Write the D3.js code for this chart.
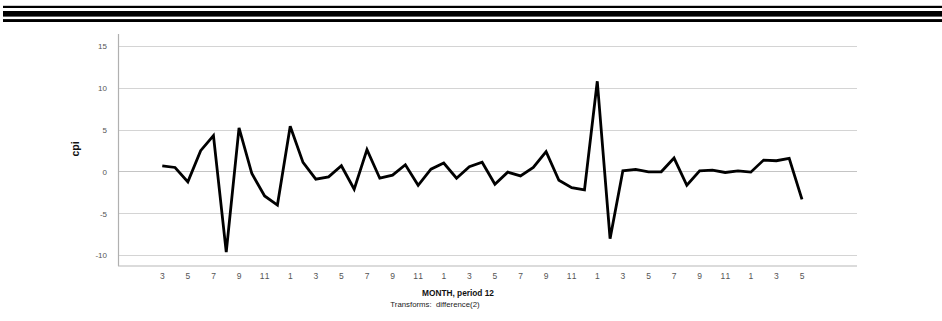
<!DOCTYPE html>
<html>
<head>
<meta charset="utf-8">
<script src="https://cdn.jsdelivr.net/npm/d3@7"></script>
<style>
    body { margin: 0; background: #fff; }
    svg { display: block; font-family: "Liberation Sans", Arial, sans-serif; }
</style>
</head>
<body>
<svg id="CpiChart"></svg>
<script>
            // month number of every observation (starts at month 3, difference(2) eats the first two)
            let months = [3, 4, 5, 6, 7, 8, 9, 10, 11, 12,
                1, 2, 3, 4, 5, 6, 7, 8, 9, 10, 11, 12,
                1, 2, 3, 4, 5, 6, 7, 8, 9, 10, 11, 12,
                1, 2, 3, 4, 5, 6, 7, 8, 9, 10, 11, 12,
                1, 2, 3, 4, 5]

            // differenced cpi values
            let cpiValues = [0.68, 0.48, -1.24, 2.48, 4.28, -9.6, 5.2, -0.24, -2.92, -4.0,
                5.4, 1.08, -0.92, -0.64, 0.68, -2.12, 2.6, -0.8, -0.44, 0.8, -1.64, 0.28,
                1.0, -0.8, 0.56, 1.1, -1.52, -0.08, -0.52, 0.48, 2.36, -1.04, -1.92, -2.2,
                10.75, -8.0, 0.08, 0.24, -0.04, -0.04, 1.6, -1.64, 0.08, 0.16, -0.12,
                0.08, -0.08, 1.36, 1.28, 1.56, -3.32]

            let yTicks = [-10, -5, 0, 5, 10, 15]

            function getConfig() {
                let width = 942;
                let height = 321;
                let plot = {left: 118, right: 857, top: 34, bottom: 265.5}
                let container = d3.select('#CpiChart')
                container
                    .attr("width", width)
                    .attr("height", height)
                return {width, height, plot, container}
            }

            function getScales(config) {
                let {plot} = config
                // index 0 is month 3; the axis keeps some room for the two lost months
                let xScale = d3
                    .scaleLinear()
                    .domain([-3.46, 54.3])
                    .range([plot.left, plot.right])

                let yScale = d3
                    .scaleLinear()
                    .domain([-11.2, 16.38])
                    .range([plot.bottom, plot.top])

                return {xScale, yScale}
            }

            function drawRules(config) {
                let {container, width} = config
                let rules = [{y: 5.8, h: 2.2}, {y: 11, h: 5.6}, {y: 19.1, h: 2.9}]
                container
                    .selectAll(".rule")
                    .data(rules)
                    .enter()
                    .append("rect")
                    .attr("class", "rule")
                    .attr("x", 3)
                    .attr("y", d => d.y)
                    .attr("width", width - 3)
                    .attr("height", d => d.h)
                    .attr("fill", "#000")
            }

            function drawGrid(scales, config) {
                let {yScale} = scales
                let {container, plot} = config
                container
                    .append("g")
                    .selectAll("line")
                    .data(yTicks)
                    .enter()
                    .append("line")
                    .attr("x1", plot.left)
                    .attr("x2", plot.right)
                    .attr("y1", d => Math.round(yScale(d)) + 0.5)
                    .attr("y2", d => Math.round(yScale(d)) + 0.5)
                    .attr("stroke", d => d == 0 ? "#c4c4c4" : "#d4d4d4")
                    .attr("stroke-width", 1)
            }

            function drawAxes(scales, config) {
                let {xScale, yScale} = scales
                let {container, plot} = config

                // plain hyphen for negatives, like the original
                let axisY = d3.axisLeft(yScale)
                    .tickValues(yTicks)
                    .tickFormat(d => String(d))
                    .tickSize(0)
                    .tickPadding(11)
                let gy = container
                    .append("g")
                    .attr("transform", `translate(${plot.left},0)`)
                    .call(axisY)
                gy.select(".domain").remove()
                gy.selectAll("text")
                    .attr("font-size", 8)
                    .attr("font-family", "Liberation Sans, Arial, sans-serif")
                    .attr("fill", "#555")

                let oddIdx = months.map((m, i) => i).filter(i => months[i] % 2 == 1)
                let axisX = d3.axisBottom(xScale)
                    .tickValues(oddIdx)
                    .tickFormat(i => months[i])
                    .tickSize(0)
                    .tickPadding(7)
                let gx = container
                    .append("g")
                    .attr("transform", `translate(0,${plot.bottom})`)
                    .call(axisX)
                gx.select(".domain").remove()
                gx.selectAll("text")
                    .attr("font-size", 8.5)
                    .attr("font-family", "Liberation Sans, Arial, sans-serif")
                    .attr("fill", "#555")
                    .attr("letter-spacing", 0.9)

                // axis frame lines
                container.append("line")
                    .attr("x1", plot.left + 0.5).attr("x2", plot.left + 0.5)
                    .attr("y1", plot.top).attr("y2", plot.bottom + 0.5)
                    .attr("stroke", "#b0b0b0")
                    .attr("stroke-width", 1.2)
                container.append("line")
                    .attr("x1", plot.left).attr("x2", plot.right)
                    .attr("y1", plot.bottom + 0.5).attr("y2", plot.bottom + 0.5)
                    .attr("stroke", "#b8b8b8")
                    .attr("stroke-width", 1.2)

                container.append("text")
                    .attr("transform", "translate(79,149) rotate(-90)")
                    .attr("text-anchor", "middle")
                    .attr("font-size", 10.5)
                    .attr("font-weight", "bold")
                    .attr("fill", "#111")
                    .text("cpi")

                container.append("text")
                    .attr("x", 458)
                    .attr("y", 295.5)
                    .attr("text-anchor", "middle")
                    .attr("font-size", 8.3)
                    .attr("font-weight", "bold")
                    .attr("fill", "#111")
                    .text("MONTH, period 12")

                container.append("text")
                    .attr("x", 435)
                    .attr("y", 306.5)
                    .attr("text-anchor", "middle")
                    .attr("font-size", 7.8)
                    .attr("fill", "#222")
                    .attr("xml:space", "preserve")
                    .text("Transforms:  difference(2)")
            }

            function drawLine(scales, config) {
                let {xScale, yScale} = scales
                let {container} = config
                let line = d3.line()
                    .x((d, i) => xScale(i))
                    .y(d => yScale(d))
                container
                    .append("path")
                    .datum(cpiValues)
                    .attr("d", line)
                    .attr("fill", "none")
                    .attr("stroke", "#000")
                    .attr("stroke-width", 2.8)
                    .attr("stroke-linejoin", "miter")
            }

            function showChart() {
                let config = getConfig()
                let scales = getScales(config)
                drawRules(config)
                drawGrid(scales, config)
                drawAxes(scales, config)
                drawLine(scales, config)
            }

            showChart();
</script>
</body>
</html>
